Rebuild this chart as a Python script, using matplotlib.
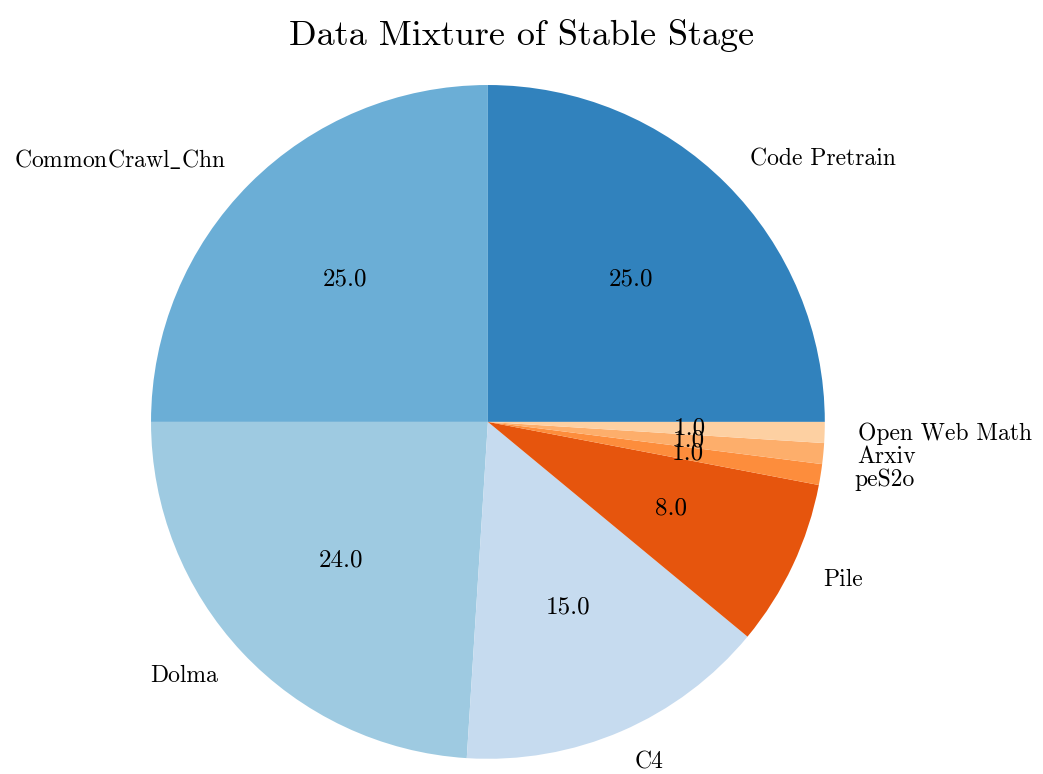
import matplotlib.pyplot as plt

plt.rcParams['font.family'] = 'serif'
plt.rcParams['font.serif'] = ['cmr10']
plt.rcParams['mathtext.fontset'] = 'cm'
plt.rcParams['axes.formatter.use_mathtext'] = True

LABELS = ["Code Pretrain", "CommonCrawl$\\_$Chn", "Dolma", "C4", "Pile",
          "peS2o", "Arxiv", "Open Web Math"]
SHARES = [25.0, 25.0, 24.0, 15.0, 8.0, 1.0, 1.0, 1.0]


def main():
    fig = plt.figure(figsize=(10.43, 7.74), dpi=100)
    ax = fig.add_axes([0.1448, 0.0194, 0.646, 0.871])

    colors = plt.get_cmap('tab20c').colors[:8]
    wedges, texts, autotexts = ax.pie(SHARES, labels=LABELS, colors=colors,
                                      autopct='%.1f',
                                      textprops={'fontsize': 17})
    for t in autotexts:
        t.set_fontsize(18)
    ax.set_xlim(-1, 1)
    ax.set_ylim(-1, 1)
    ax.set_aspect('equal')

    fig.suptitle('Data Mixture of Stable Stage', fontsize=26, y=0.975)

    plt.savefig("out.png")


if __name__ == "__main__":
    main()
